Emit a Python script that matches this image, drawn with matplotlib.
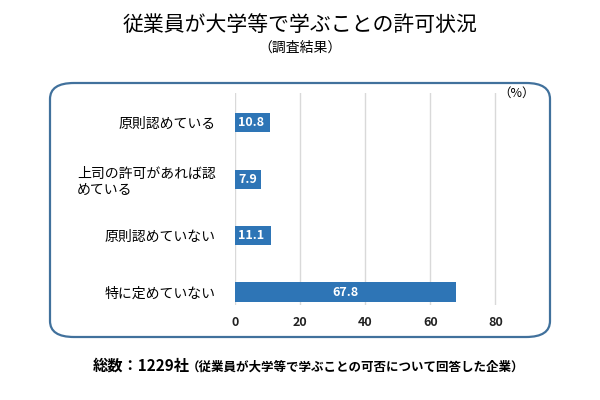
import matplotlib
matplotlib.use("Agg")
import matplotlib.pyplot as plt
from matplotlib.patches import FancyBboxPatch

plt.rcParams['font.family'] = ['Noto Sans CJK JP', 'DejaVu Sans']

categories = ["原則認めている", "上司の許可があれば認\nめている", "原則認めていない", "特に定めていない"]
values = [10.8, 7.9, 11.1, 67.8]
xticks = [0, 20, 40, 60, 80]

bar_color = "#2E75B6"

fig = plt.figure(figsize=(6, 4), dpi=100)

# rounded frame
box = FancyBboxPatch((50/600, 1-337/400), 500/600, (337-83)/400,
                     boxstyle="round,pad=0,rounding_size=0.04",
                     transform=fig.transFigure, facecolor="white",
                     edgecolor="#41719C", linewidth=1.6, zorder=-1)
fig.patches.append(box)

ax = fig.add_axes([235/600, 1-305/400, (528-235)/600, (305-93)/400])
ax.set_zorder(2)
ax.set_facecolor("none")
y = list(range(len(categories)))
bars = ax.barh(y, values, height=0.34, color=bar_color, zorder=3)
ax.set_ylim(3.23, -0.53)
ax.set_xlim(0, 90)
ax.set_xticks(xticks)
ax.set_xticklabels([str(t) for t in xticks], fontsize=9, fontweight='bold', color="#222222")
ax.set_yticks(y)
ax.set_yticklabels(categories, fontsize=10, multialignment='left')
ax.tick_params(axis='both', length=0)
ax.tick_params(axis='y', pad=14)
ax.tick_params(axis='x', pad=8)
ax.grid(axis='x', color="#D9D9D9", linewidth=1, zorder=0)
for s in ax.spines.values():
    s.set_visible(False)

for b, v in zip(bars, values):
    cx = b.get_width() / 2 if v > 20 else 1.0
    ha = 'center' if v > 20 else 'left'
    ax.text(cx, b.get_y() + b.get_height()/2, f"{v}", ha=ha, va='center',
            color='white', fontsize=9, fontweight='bold', zorder=4)

ax.text(0.9, 1.0, "（%）", transform=ax.transAxes, ha='left', va='center', fontsize=9)

fig.text(0.5, 1-25/400, "従業員が大学等で学ぶことの許可状況", ha='center', va='center', fontsize=15)
fig.text(0.5, 1-48/400, "（調査結果）", ha='center', va='center', fontsize=10)

t1 = fig.text(93/600, 1-366/400, "総数：1229社", ha='left', va='center', fontsize=11, fontweight='bold')
fig.canvas.draw()
bb = t1.get_window_extent()
fig.text(bb.x1/600 - 0.005, 1-367/400, "（従業員が大学等で学ぶことの可否について回答した企業）",
         ha='left', va='center', fontsize=9, fontweight='bold')

fig.savefig("out.png", dpi=100)
